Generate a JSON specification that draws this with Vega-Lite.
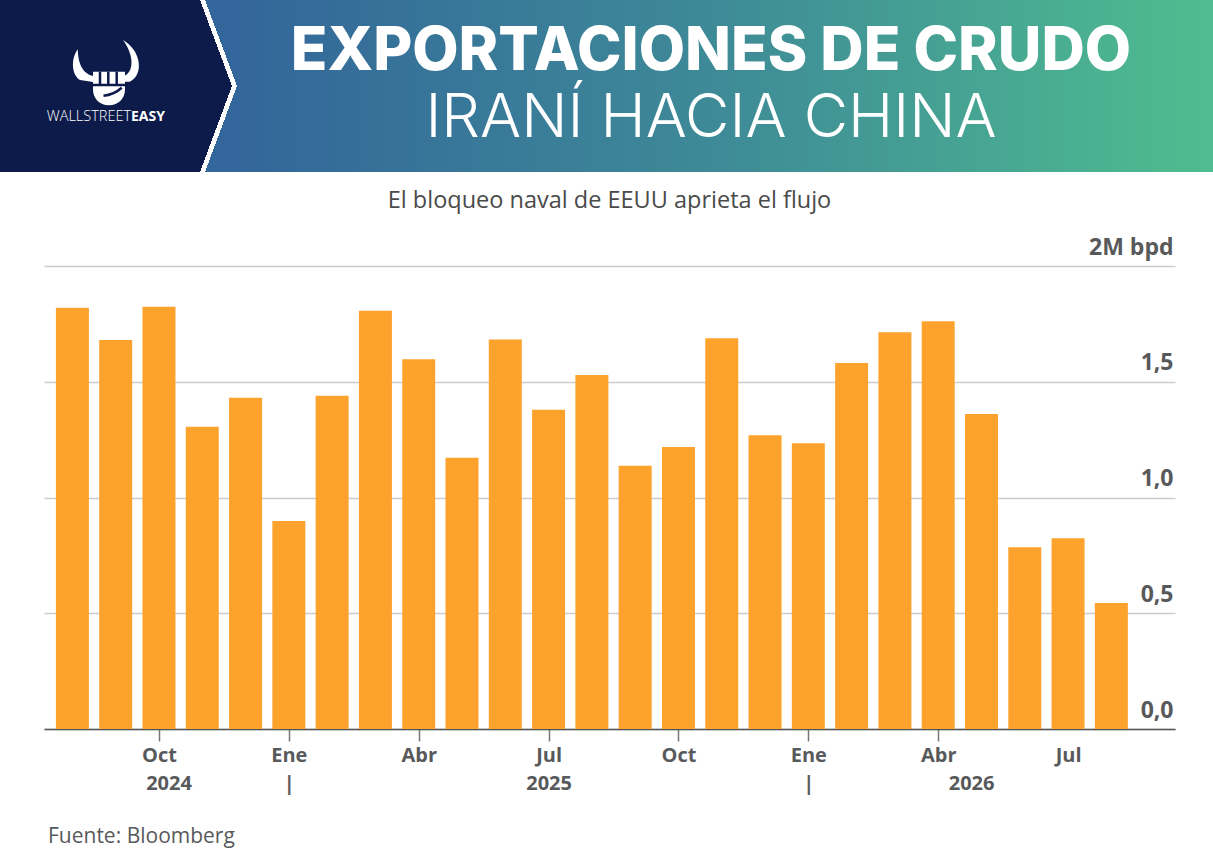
{
  "$schema": "https://vega.github.io/schema/vega-lite/v6.json",
  "padding": {"left": 0, "top": 0, "right": 0, "bottom": 8},
  "background": "white",
  "config": {
    "view": {"stroke": null},
    "concat": {"spacing": 0}
  },
  "title": {
    "text": "Fuente: Bloomberg",
    "orient": "bottom",
    "anchor": "start",
    "dx": 48,
    "offset": 33,
    "font": "Open Sans",
    "fontSize": 21,
    "fontWeight": "normal",
    "color": "#58595b"
  },
  "spacing": 16,
  "vconcat": [
    {
      "spacing": 0,
      "hconcat": [
        {
          "width": 200,
          "height": 172,
          "data": {"values": [{"marca": "WallStreetEasy"}]},
          "layer": [
            {"mark": {"type": "rect", "fill": "#0d1b4b"}, "encoding": {}},
            {
              "mark": {
                "type": "point",
                "filled": true,
                "fill": "white",
                "opacity": 1,
                "size": 4900,
                "shape": "M -0.637 -1.049 C -0.85 -0.75 -0.8 -0.3 -0.571 -0.171 L -0.2 -0.114 L -0.2 -0.286 C -0.45 -0.35 -0.62 -0.55 -0.637 -1.049 Z M 0.657 -1.314 C 1.2 -1.0 1.25 -0.3 0.85 -0.123 L 0.7 -0.123 L 0.7 -0.286 C 0.95 -0.4 1.0 -0.85 0.657 -1.314 Z M -0.2 -0.409 L 0.714 -0.409 L 0.714 0.1 C 0.714 0.35 0.53 0.55 0.257 0.55 C -0.02 0.55 -0.2 0.35 -0.2 0.1 Z"
              },
              "encoding": {}
            },
            {
              "mark": {
                "type": "point",
                "filled": false,
                "stroke": "#0d1b4b",
                "strokeWidth": 2.5,
                "opacity": 1,
                "size": 4900,
                "shape": "M 0 -0.41 L 0 -0.03 M 0.237 -0.41 L 0.237 -0.03 M 0.477 -0.41 L 0.477 -0.03 M -0.2 -0.03 L 0.72 -0.03 M 0.1 0.28 Q 0.4 0.25 0.62 0.05"
              },
              "encoding": {}
            },
            {
              "mark": {
                "type": "text",
                "text": "WALLSTREET",
                "align": "right",
                "baseline": "middle",
                "dx": 31,
                "dy": 31,
                "font": "Open Sans",
                "fontSize": 14.5,
                "fontWeight": 300,
                "color": "white"
              },
              "encoding": {}
            },
            {
              "mark": {
                "type": "text",
                "text": "EASY",
                "align": "left",
                "baseline": "middle",
                "dx": 31,
                "dy": 31,
                "font": "Open Sans",
                "fontSize": 14,
                "fontWeight": "bold",
                "color": "white"
              },
              "encoding": {}
            }
          ]
        },
        {
          "spacing": 0,
          "vconcat": [
            {
              "width": 37,
              "height": 86,
              "data": {"values": [{"parte": "arriba"}]},
              "mark": {
                "type": "rect",
                "fill": {
                  "gradient": "linear",
                  "x1": 0, "y1": 0.865, "x2": 1, "y2": 0,
                  "stops": [
                    {"offset": 0, "color": "#0d1b4b"},
                    {"offset": 0.428, "color": "#0d1b4b"},
                    {"offset": 0.428, "color": "#ffffff"},
                    {"offset": 0.505, "color": "#ffffff"},
                    {"offset": 0.505, "color": "#33669a"},
                    {"offset": 1, "color": "#33669a"}
                  ]
                }
              },
              "encoding": {}
            },
            {
              "width": 37,
              "height": 86,
              "data": {"values": [{"parte": "abajo"}]},
              "mark": {
                "type": "rect",
                "fill": {
                  "gradient": "linear",
                  "x1": 0, "y1": 0.135, "x2": 1, "y2": 1,
                  "stops": [
                    {"offset": 0, "color": "#0d1b4b"},
                    {"offset": 0.428, "color": "#0d1b4b"},
                    {"offset": 0.428, "color": "#ffffff"},
                    {"offset": 0.505, "color": "#ffffff"},
                    {"offset": 0.505, "color": "#33669a"},
                    {"offset": 1, "color": "#33669a"}
                  ]
                }
              },
              "encoding": {}
            }
          ]
        },
        {
          "width": 976,
          "height": 172,
          "data": {"values": [{"parte": "titulo"}]},
          "title": {
            "text": "EXPORTACIONES DE CRUDO",
            "subtitle": "IRANÍ HACIA CHINA",
            "orient": "top",
            "anchor": "middle",
            "frame": "group",
            "offset": -150,
            "dx": -14,
            "font": "Inter",
            "fontSize": 60,
            "fontWeight": 800,
            "color": "white",
            "subtitleFont": "Inter",
            "subtitleFontSize": 61,
            "subtitleFontWeight": 300,
            "subtitleColor": "white",
            "subtitlePadding": 6
          },
          "mark": {
            "type": "rect",
            "fill": {
              "gradient": "linear",
              "x1": 0, "y1": 0, "x2": 1, "y2": 0,
              "stops": [
                {"offset": 0, "color": "#33669a"},
                {"offset": 0.5, "color": "#3e8b97"},
                {"offset": 1, "color": "#4fbd8f"}
              ]
            }
          },
          "encoding": {}
        }
      ]
    },
    {
      "spacing": 0,
      "hconcat": [
        {
          "width": 44,
          "height": 463,
          "data": {"values": [{"parte": "margen"}]},
          "mark": {"type": "rect", "opacity": 0},
          "encoding": {}
        },
        {
          "width": 1131,
          "height": 463,
          "title": {
            "text": "El bloqueo naval de EEUU aprieta el flujo",
            "anchor": "middle",
            "offset": 24,
            "font": "Open Sans",
            "fontSize": 23.5,
            "fontWeight": 500,
            "color": "#4a4a4a"
          },
          "data": {
            "values": [
              {"mes": 1, "fecha": "2024-08", "exportaciones": 1.82},
              {"mes": 2, "fecha": "2024-09", "exportaciones": 1.68},
              {"mes": 3, "fecha": "2024-10", "exportaciones": 1.824},
              {"mes": 4, "fecha": "2024-11", "exportaciones": 1.306},
              {"mes": 5, "fecha": "2024-12", "exportaciones": 1.431},
              {"mes": 6, "fecha": "2025-01", "exportaciones": 0.898},
              {"mes": 7, "fecha": "2025-02", "exportaciones": 1.44},
              {"mes": 8, "fecha": "2025-03", "exportaciones": 1.807},
              {"mes": 9, "fecha": "2025-04", "exportaciones": 1.597},
              {"mes": 10, "fecha": "2025-05", "exportaciones": 1.172},
              {"mes": 11, "fecha": "2025-06", "exportaciones": 1.683},
              {"mes": 12, "fecha": "2025-07", "exportaciones": 1.379},
              {"mes": 13, "fecha": "2025-08", "exportaciones": 1.529},
              {"mes": 14, "fecha": "2025-09", "exportaciones": 1.137},
              {"mes": 15, "fecha": "2025-10", "exportaciones": 1.218},
              {"mes": 16, "fecha": "2025-11", "exportaciones": 1.688},
              {"mes": 17, "fecha": "2025-12", "exportaciones": 1.269},
              {"mes": 18, "fecha": "2026-01", "exportaciones": 1.234},
              {"mes": 19, "fecha": "2026-02", "exportaciones": 1.581},
              {"mes": 20, "fecha": "2026-03", "exportaciones": 1.714},
              {"mes": 21, "fecha": "2026-04", "exportaciones": 1.761},
              {"mes": 22, "fecha": "2026-05", "exportaciones": 1.361},
              {"mes": 23, "fecha": "2026-06", "exportaciones": 0.785},
              {"mes": 24, "fecha": "2026-07", "exportaciones": 0.824},
              {"mes": 25, "fecha": "2026-08", "exportaciones": 0.544}
            ]
          },
          "mark": {"type": "bar", "color": "#fda22d", "size": 33},
          "encoding": {
            "x": {
              "field": "mes",
              "type": "quantitative",
              "scale": {"domain": [0.344, 26.47], "nice": false, "zero": false, "padding": 0},
              "axis": {
                "title": null,
                "grid": false,
                "values": [3, 3.22, 6, 9, 12, 15, 18, 21, 21.76, 24],
                "labelExpr": "datum.value == 3 ? ['Oct', ''] : datum.value == 3.22 ? ['', '2024'] : datum.value == 6 ? ['Ene', '|'] : datum.value == 9 ? 'Abr' : datum.value == 12 ? ['Jul', '2025'] : datum.value == 15 ? 'Oct' : datum.value == 18 ? ['Ene', '|'] : datum.value == 21 ? 'Abr' : datum.value == 21.76 ? ['', '2026'] : 'Jul'",
                "domainColor": "#555555",
                "domainWidth": 1.5,
                "tickColor": "#777777",
                "tickWidth": 1.5,
                "tickSize": 12,
                "tickOpacity": {"condition": {"test": "indexof([3, 6, 9, 12, 15, 18, 21], datum.value) >= 0", "value": 1}, "value": 0},
                "labelFont": "Open Sans",
                "labelFontSize": 20,
                "labelFontWeight": "bold",
                "labelColor": "#58595b",
                "labelPadding": 4,
                "labelLineHeight": 28,
                "labelOverlap": false,
                "labelFlush": false,
                "labelBound": false
              }
            },
            "y": {
              "field": "exportaciones",
              "type": "quantitative",
              "scale": {"domain": [0, 2], "nice": false},
              "axis": {
                "orient": "right",
                "title": null,
                "values": [0, 0.5, 1, 1.5, 2],
                "labelExpr": "datum.value == 2 ? '2M bpd' : replace(format(datum.value, '.1f'), '.', ',')",
                "domain": false,
                "ticks": false,
                "tickSize": 0,
                "grid": true,
                "gridColor": "#cccccc",
                "gridWidth": 1.5,
                "labelAlign": "right",
                "labelBaseline": "alphabetic",
                "labelPadding": -2,
                "labelOffset": -12,
                "labelFont": "Open Sans",
                "labelFontSize": 23,
                "labelFontWeight": "bold",
                "labelColor": "#58595b",
                "labelOverlap": false,
                "labelFlush": false,
                "labelBound": false,
                "minExtent": 0
              }
            }
          }
        }
      ]
    }
  ]
}
